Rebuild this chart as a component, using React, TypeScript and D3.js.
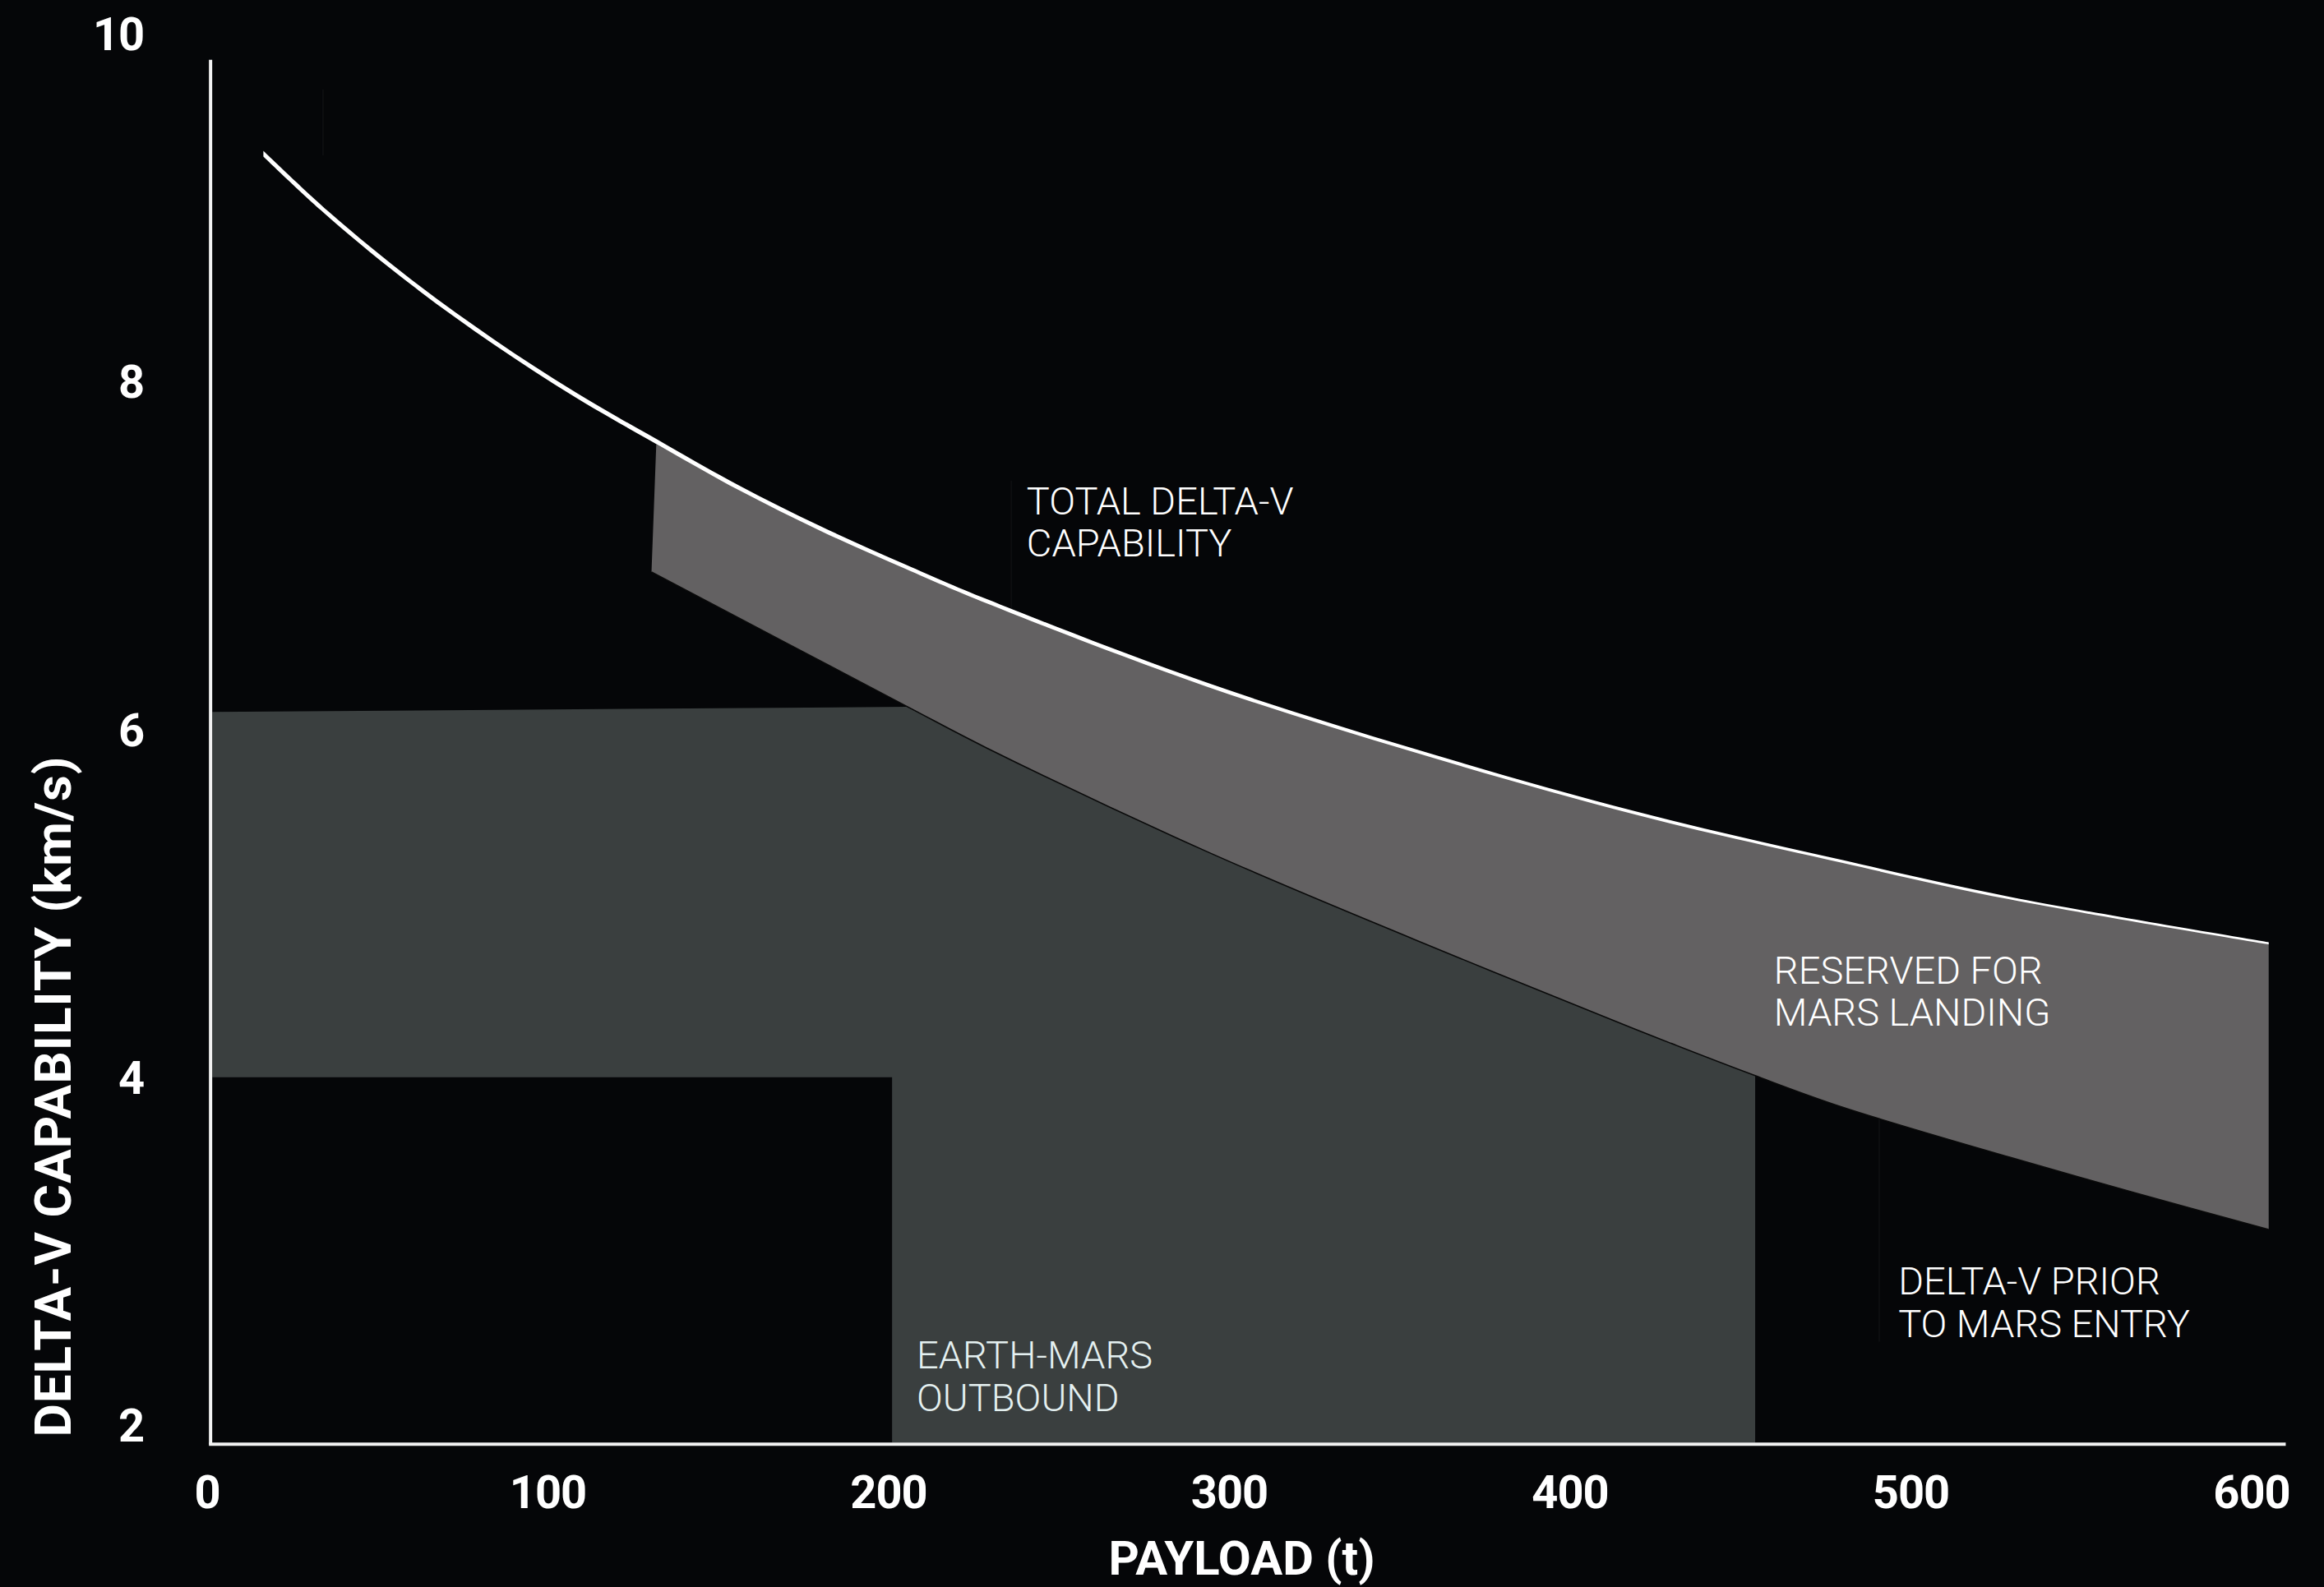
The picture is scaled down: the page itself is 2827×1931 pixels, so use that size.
import React from 'react';
import * as d3 from 'd3';

const W = 2827;
const H = 1931;

// ---- data ----
const xTicks = [0, 100, 200, 300, 400, 500, 600];
const yTicks = [2, 4, 6, 8, 10];

// Total delta-V capability curve (white line)
const totalPayload = [16.5, 36, 60, 84, 108, 135, 156, 180, 205, 229, 293, 354, 419, 480, 529, 605];
const totalDeltaV = [9.31, 8.955, 8.57, 8.23, 7.925, 7.62, 7.39, 7.155, 6.935, 6.735, 6.26, 5.88, 5.52, 5.24, 5.03, 4.77];

// Delta-V prior to Mars entry (lower edge of the reserved band)
const priorPayload = [130.4, 204.6, 228.7, 293.1, 354.2, 418.6, 454.3, 479.6, 529, 565, 605];
const priorDeltaV = [6.905, 6.14, 5.894, 5.3, 4.793, 4.28, 4.009, 3.83, 3.54, 3.34, 3.125];

// Reserved band start (top-left corner)
const reservedStart = [131.8, 7.64];

// Earth-Mars outbound region
const outboundLeft = 1.5;
const outboundStep = 201;
const outboundJoin = 205.3;
const outboundRight = 454.3;
const outboundTopLeft = 6.1;
const outboundTopRight = 6.13;
const outboundStepLevel = 4.0;
const outboundFloor = 1.9;

// Axis extents
const axisXMin = 1;
const axisXMax = 610;
const axisYMin = 1.89;
const axisYMax = 9.85;

// Annotations
const labels = [
  { lines: ['TOTAL DELTA-V', 'CAPABILITY'], p: 240.5, v: 7.236, color: '#ffffff' },
  { lines: ['RESERVED FOR', 'MARS LANDING'], p: 459.8, v: 4.538, color: '#ffffff' },
  { lines: ['DELTA-V PRIOR', 'TO MARS ENTRY'], p: 496.3, v: 2.751, color: '#ffffff' },
  { lines: ['EARTH-MARS', 'OUTBOUND'], p: 208.2, v: 2.326, color: '#e4f0f0' },
];

// Faint leader lines [payload, v from, v to]
const leaders = [
  [34, 9.68, 9.3],
  [236, 7.43, 6.67],
  [490.7, 3.76, 2.48],
];

const xTitle = 'PAYLOAD (t)';
const yTitle = 'DELTA-V CAPABILITY (km/s)';

export default function App() {
  const x = d3.scaleLinear().domain([0, 600]).range([252, 2739]);
  const y = d3.scaleLinear().domain([2, 10]).range([1734, 41]);

  const totalPts: [number, number][] = totalPayload.map((p, i) => [p, totalDeltaV[i]]);
  const priorPts: [number, number][] = priorPayload.map((p, i) => [p, priorDeltaV[i]]);

  const curve = d3.curveCatmullRom.alpha(0.5);
  const line = d3
    .line<[number, number]>()
    .x((d) => x(d[0]))
    .y((d) => y(d[1]))
    .curve(curve);

  // reserved band polygon: upper curve then reversed lower curve
  const upperBand: [number, number][] = [
    [reservedStart[0], reservedStart[1]],
    ...totalPts.filter((d) => d[0] > reservedStart[0] + 5),
  ];
  const lowerRev = [...priorPts].reverse();
  const bandPath =
    (line(upperBand) || '') + 'L' + (line(lowerRev) || '').slice(1) + 'Z';

  // outbound polygon (linear; its diagonal lies under the band)
  const outboundPts: [number, number][] = [
    [outboundLeft, outboundTopLeft],
    [outboundJoin, outboundTopRight],
    ...priorPts.filter((d) => d[0] > outboundJoin && d[0] <= outboundRight),
    [outboundRight, outboundFloor],
    [outboundStep, outboundFloor],
    [outboundStep, outboundStepLevel],
    [outboundLeft, outboundStepLevel],
  ];
  const linLine = d3
    .line<[number, number]>()
    .x((d) => x(d[0]))
    .y((d) => y(d[1]));
  const outboundPath = (linLine(outboundPts) || '') + 'Z';

  // tapered white line via area
  const p0 = totalPayload[0];
  const p1 = totalPayload[totalPayload.length - 1];
  const hw = (p: number) => 3.4 - ((p - p0) / (p1 - p0)) * 2.1;
  const whiteArea = d3
    .area<[number, number]>()
    .x((d) => x(d[0]))
    .y0((d) => y(d[1]) + hw(d[0]))
    .y1((d) => y(d[1]) - hw(d[0]))
    .curve(curve);

  const axisX = x(axisXMin);
  const axisY = y(axisYMin);

  const lineH = 51.5;

  return (
    <svg
      width={W}
      height={H}
      viewBox={`0 0 ${W} ${H}`}
      style={{ position: 'absolute', left: 0, top: 0, display: 'block' }}
    >
      <rect x={0} y={0} width={W} height={H} fill="#050608" />

      {leaders.map((l, i) => (
        <line
          key={'ld' + i}
          x1={x(l[0])}
          x2={x(l[0])}
          y1={y(l[1])}
          y2={y(l[2])}
          stroke="#0d0e10"
          strokeWidth={2}
        />
      ))}

      <path d={outboundPath} fill="#3a3f3f" />
      <path d={bandPath} fill="#636162" />
      <path d={line(priorPts) || ''} fill="none" stroke="#0a0a0a" strokeWidth={1.6} />
      <path d={whiteArea(totalPts) || ''} fill="#ffffff" />

      {/* axes */}
      <line x1={axisX} x2={axisX} y1={y(axisYMax)} y2={axisY} stroke="#f2f2f2" strokeWidth={4} />
      <line x1={axisX - 2} x2={x(axisXMax)} y1={axisY} y2={axisY} stroke="#f2f2f2" strokeWidth={4} />

      {/* tick labels */}
      <g fontFamily="Roboto, 'Noto Sans', sans-serif" fontWeight={700} fontSize={56} fill="#ffffff">
        {xTicks.map((t) => (
          <text key={'xt' + t} x={x(t)} y={1835} textAnchor="middle" letterSpacing={-1}>
            {t}
          </text>
        ))}
        {yTicks.map((t) => (
          <text key={'yt' + t} x={axisX - 81} y={y(t) + 20} textAnchor="end" letterSpacing={-1}>
            {t}
          </text>
        ))}
      </g>

      {/* axis titles */}
      <text
        x={x(300) + 15}
        y={1916}
        textAnchor="middle"
        fontFamily="Roboto, 'Noto Sans', sans-serif"
        fontWeight={700}
        fontSize={58}
        fill="#ffffff"
      >
        {xTitle}
      </text>
      <text
        transform={`translate(86, ${y(3.89)}) rotate(-90)`}
        textAnchor="middle"
        fontFamily="Roboto, 'Noto Sans', sans-serif"
        fontWeight={700}
        fontSize={62}
        letterSpacing={1}
        fill="#ffffff"
      >
        {yTitle}
      </text>

      {/* annotations */}
      <g fontFamily="Roboto, 'Noto Sans', sans-serif" fontWeight={300} fontSize={47}>
        {labels.map((lb, i) =>
          lb.lines.map((t, j) => (
            <text key={'lb' + i + '-' + j} x={x(lb.p)} y={y(lb.v) + j * lineH} fill={lb.color}>
              {t}
            </text>
          ))
        )}
      </g>
    </svg>
  );
}
